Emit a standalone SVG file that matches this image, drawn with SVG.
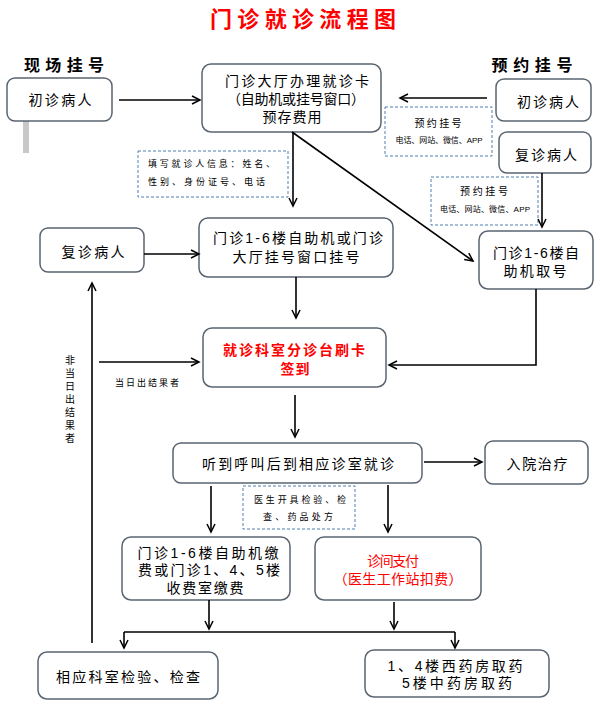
<svg xmlns="http://www.w3.org/2000/svg" width="600" height="711" viewBox="0 0 600 711">
<defs>
<marker id="arr" markerUnits="userSpaceOnUse" markerWidth="12" markerHeight="12" refX="9" refY="5" orient="auto">
<path d="M1,1 L9,5 L1,9" fill="none" stroke="#000" stroke-width="1.5"/>
</marker>
<style>
.box{fill:#fff;stroke:#5a6470;stroke-width:1.5}
.dash{fill:#fff;stroke:#4f7fb0;stroke-width:1;stroke-dasharray:3 2}
.t{font-family:"Liberation Sans","Noto Sans CJK SC",sans-serif;font-size:14px;fill:#000;text-anchor:middle;dominant-baseline:central}
.s{font-family:"Liberation Sans","Noto Sans CJK SC",sans-serif;font-size:9px;fill:#000;dominant-baseline:central}
.red{fill:#ff0000}
.b{font-weight:bold}
.c line,.c polyline{stroke:#000;stroke-width:1.6;fill:none;marker-end:url(#arr)}
</style>
</defs>
<rect width="600" height="711" fill="#fff"/>

<text class="t red b" x="303" y="19" style="font-size:22px" textLength="186" lengthAdjust="spacing">门诊就诊流程图</text>
<text class="t b" x="64" y="65" style="font-size:16px" textLength="80" lengthAdjust="spacing">现场挂号</text>
<text class="t b" x="532" y="65" style="font-size:16px" textLength="81" lengthAdjust="spacing">预约挂号</text>

<rect x="23" y="121" width="6" height="32" fill="#c8c8c8"/>

<g id="n_first_left"><rect class="box" x="7" y="78" width="105" height="43" rx="8"/><text class="t" x="60" y="100" textLength="63" lengthAdjust="spacing">初诊病人</text></g>

<g id="n_card"><rect class="box" x="202" y="64" width="179" height="68" rx="9"/>
<text class="t" x="297" y="81" textLength="144" lengthAdjust="spacing">门诊大厅办理就诊卡</text>
<text class="t" x="296" y="99" textLength="138" lengthAdjust="spacing">（自助机或挂号窗口）</text>
<text class="t" x="292" y="117" textLength="59" lengthAdjust="spacing">预存费用</text></g>

<g id="n_first_right"><rect class="box" x="496" y="79" width="95" height="42" rx="8"/><text class="t" x="548" y="102" textLength="62" lengthAdjust="spacing">初诊病人</text></g>

<g id="n_note1"><rect class="dash" x="385" y="107" width="107" height="49"/>
<text class="s" x="438" y="123" text-anchor="middle" style="font-size:10px" textLength="47" lengthAdjust="spacing">预约挂号</text>
<text class="s" x="439" y="140" text-anchor="middle" style="font-size:8px" textLength="87" lengthAdjust="spacing">电话、网站、微信、APP</text></g>

<g id="n_repeat_right"><rect class="box" x="499" y="132" width="92" height="41" rx="8"/><text class="t" x="546" y="155" textLength="62" lengthAdjust="spacing">复诊病人</text></g>

<g id="n_note2"><rect class="dash" x="431" y="177" width="107" height="48"/>
<text class="s" x="484" y="191" text-anchor="middle" style="font-size:10px" textLength="48" lengthAdjust="spacing">预约挂号</text>
<text class="s" x="485" y="209" text-anchor="middle" style="font-size:8px" textLength="90" lengthAdjust="spacing">电话、网站、微信、APP</text></g>

<g id="n_note_info"><rect class="dash" x="138" y="151" width="150" height="46"/>
<text class="s" x="148" y="164" textLength="127" lengthAdjust="spacing">填写就诊人信息：姓名、</text>
<text class="s" x="148" y="182" textLength="117" lengthAdjust="spacing">性别、身份证号、电话</text></g>

<g id="n_self_take"><rect class="box" x="479" y="231" width="114" height="58" rx="9"/>
<text class="t" x="536" y="253" textLength="86" lengthAdjust="spacing">门诊1-6楼自</text>
<text class="t" x="535" y="271" textLength="63" lengthAdjust="spacing">助机取号</text></g>

<g id="n_repeat_left"><rect class="box" x="40" y="228" width="104" height="44" rx="8"/><text class="t" x="93" y="252" textLength="63" lengthAdjust="spacing">复诊病人</text></g>

<g id="n_register"><rect class="box" x="199" y="218" width="194" height="59" rx="9"/>
<text class="t" x="298" y="238" textLength="170" lengthAdjust="spacing">门诊1-6楼自助机或门诊</text>
<text class="t" x="296" y="257" textLength="127" lengthAdjust="spacing">大厅挂号窗口挂号</text></g>

<g id="n_checkin"><rect class="box" x="203" y="328" width="183" height="59" rx="9"/>
<text class="t red b" x="294" y="350" textLength="142" lengthAdjust="spacing">就诊科室分诊台刷卡</text>
<text class="t red b" x="295" y="369" textLength="29" lengthAdjust="spacing">签到</text></g>

<text class="s" x="147" y="383" text-anchor="middle" style="font-size:9px" textLength="64" lengthAdjust="spacing">当日出结果者</text>
<g class="s" style="font-size:10px" text-anchor="middle">
<text x="70" y="360">非</text><text x="70" y="373">当</text><text x="70" y="386">日</text><text x="70" y="399">出</text><text x="70" y="412">结</text><text x="70" y="425">果</text><text x="70" y="438">者</text>
</g>

<g id="n_consult"><rect class="box" x="173" y="443" width="249" height="40" rx="8"/>
<text class="t" x="298" y="464" textLength="192" lengthAdjust="spacing">听到呼叫后到相应诊室就诊</text></g>

<g id="n_hospital"><rect class="box" x="485" y="441" width="103" height="43" rx="8"/>
<text class="t" x="537" y="464" textLength="61" lengthAdjust="spacing">入院治疗</text></g>

<g id="n_note_rx"><rect class="dash" x="243" y="486" width="112" height="43"/>
<text class="s" x="300" y="500" text-anchor="middle" textLength="92" lengthAdjust="spacing">医生开具检验、检</text>
<text class="s" x="298" y="517" text-anchor="middle" textLength="70" lengthAdjust="spacing">查、药品处方</text></g>

<g id="n_pay"><rect class="box" x="122" y="537" width="168" height="63" rx="9"/>
<text class="t" x="208" y="553" textLength="141" lengthAdjust="spacing">门诊1-6楼自助机缴</text>
<text class="t" x="209" y="570" textLength="142" lengthAdjust="spacing">费或门诊1、4、5楼</text>
<text class="t" x="205" y="588" textLength="77" lengthAdjust="spacing">收费室缴费</text></g>

<g id="n_clinic_pay"><rect class="box" x="315" y="537" width="166" height="63" rx="9"/>
<text class="t red" x="393" y="561" textLength="52" lengthAdjust="spacing">诊间支付</text>
<text class="t red" x="398" y="579" textLength="129" lengthAdjust="spacing">（医生工作站扣费）</text></g>

<g id="n_exam"><rect class="box" x="38" y="652" width="180" height="47" rx="9"/>
<text class="t" x="128" y="677" textLength="144" lengthAdjust="spacing">相应科室检验、检查</text></g>

<g id="n_pharmacy"><rect class="box" x="365" y="650" width="184" height="47" rx="9"/>
<text class="t" x="455" y="666" textLength="135" lengthAdjust="spacing">1、4楼西药房取药</text>
<text class="t" x="457" y="683" textLength="110" lengthAdjust="spacing">5楼中药房取药</text></g>

<g id="connectors" class="c">
<line x1="119" y1="100" x2="200" y2="100"/>
<line x1="487" y1="98" x2="400" y2="98"/>
<line x1="293" y1="132" x2="293" y2="206"/>
<line x1="292" y1="132" x2="473" y2="261"/>
<line x1="542" y1="173" x2="542" y2="227"/>
<line x1="144" y1="254" x2="199" y2="254"/>
<line x1="296" y1="277" x2="296" y2="318"/>
<polyline points="536,289 536,365 389,365"/>
<line x1="92" y1="643" x2="92" y2="283"/>
<line x1="99" y1="362" x2="199" y2="362"/>
<line x1="295" y1="395" x2="295" y2="437"/>
<line x1="424" y1="462" x2="482" y2="462"/>
<line x1="211" y1="486" x2="211" y2="532"/>
<line x1="388" y1="485" x2="388" y2="532"/>
<line x1="209" y1="600" x2="209" y2="629"/>
<line x1="394" y1="602" x2="394" y2="629"/>
<line x1="124" y1="632" x2="455" y2="632" style="marker-end:none"/>
<line x1="124" y1="632" x2="124" y2="648"/>
<line x1="455" y1="632" x2="455" y2="648"/>
</g>
</svg>
